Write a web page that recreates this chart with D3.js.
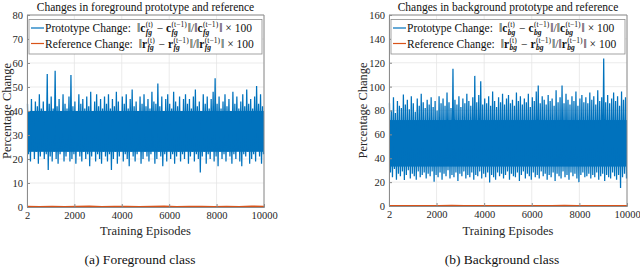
<!DOCTYPE html>
<html>
<head>
<meta charset="utf-8">
<script src="https://cdn.jsdelivr.net/npm/d3@7"></script>
<style>
  body { margin: 0; background: #fff; }
  svg text { font-family: "Liberation Serif", "DejaVu Serif", serif; }
</style>
</head>
<body>
<svg id="chart"></svg>
<script>
// ---- data ----
const xTicks = [2, 2000, 4000, 6000, 8000, 10000];
const fgYTicks = [0, 10, 20, 30, 40, 50, 60, 70, 80];
const bgYTicks = [0, 20, 40, 60, 80, 100, 120, 140, 160];

// per-bin envelope of the noisy prototype series (120 bins over episodes 2..10000)
const fgHigh = [43, 40, 45, 39, 44, 42, 47, 41, 44, 40, 55.4, 43, 46, 41, 56.8, 42, 45, 40, 47, 43,
  41, 46, 55, 42, 44, 39, 47, 43, 45, 41, 46, 42, 48, 40, 44, 47, 42, 45, 41, 46,
  43, 47, 41, 45, 42, 48, 44, 40, 46, 43, 47, 41, 45, 49, 42, 44, 40, 46, 43, 47,
  42, 45, 41, 48, 44, 43, 51.5, 42, 46, 40, 45, 47, 43, 41, 48, 44, 42, 46, 40, 45,
  47, 43, 45, 41, 46, 49, 42, 44, 40, 47, 43, 46, 41, 45, 48, 53.6, 43, 46, 41, 44,
  47, 42, 45, 40, 48, 43, 46, 41, 44, 47, 42, 49, 43, 45, 41, 46, 50.4, 43, 47, 42];
const fgLow = [22, 19, 24, 20, 23, 18, 21, 25, 20, 22, 15.4, 21, 19, 23, 20, 18, 22, 24, 19, 21,
  23, 19, 20, 22, 18, 24, 21, 19, 23, 20, 22, 17, 21, 24, 19, 22, 20, 18, 23, 21,
  19, 22, 15.4, 20, 23, 18, 21, 24, 19, 22, 20, 17, 23, 21, 19, 22, 24, 18, 20, 23,
  21, 19, 22, 24, 18, 20, 23, 21, 17, 22, 19, 24, 20, 22, 18, 21, 23, 19, 22, 20,
  24, 18, 21, 23, 19, 22, 20, 14.4, 21, 23, 18, 22, 20, 24, 19, 21, 17, 23, 20, 22,
  19, 23, 21, 18, 22, 20, 24, 19, 17, 22, 21, 23, 18, 20, 22, 19, 24, 21, 18, 22];
const fgCore = [23, 40];
const fgRef = [0.2, 0.1, 0.25, 0.1, 0.2, 0.3, 0.1, 0.2, 0.25, 0.1,
  0.2, 0.35, 0.1, 0.2, 0.25, 0.1, 0.2, 0.1, 0.3, 0.2];

const bgHigh = [86, 80, 91, 78, 88, 84, 82, 93.5, 85, 89, 81, 92, 86, 79, 90, 84, 94, 87, 82, 89,
  85, 91, 83, 88, 80, 92, 86, 90, 84, 95, 87, 82, 115, 89, 85, 92, 83, 90, 86, 94,
  88, 84, 91, 109, 87, 93, 104.6, 85, 90, 86, 92, 84, 96, 88, 83, 91, 87, 94, 85, 90,
  93, 86, 89, 84, 95, 88, 92, 85, 90, 87, 94, 83, 91, 88, 96, 101, 86, 92, 89, 85,
  93, 88, 90, 84, 97, 87, 91, 101, 86, 94, 89, 85, 92, 88, 96, 84, 90, 93, 87, 91,
  86, 95, 89, 92, 85, 97, 88, 91, 123.6, 87, 93, 86, 90, 95, 88, 92, 84, 96, 89, 91];
const bgLow = [28, 24, 31, 22, 27, 25, 29, 21.7, 26, 30, 23, 27, 25, 22, 29, 24, 26, 28, 23, 27,
  25, 29, 20.4, 26, 24, 28, 22, 27, 25, 30, 23, 26, 24, 28, 21, 27, 25, 29, 23, 26,
  24, 28, 22, 26, 25, 29, 23, 27, 24, 28, 19.7, 26, 24, 22, 28, 25, 27, 23, 26, 29,
  22, 27, 25, 24, 28, 21, 26, 29, 23, 27, 25, 22, 28, 24, 26, 23, 29, 25, 27, 22,
  26, 24, 28, 21, 27, 25, 23, 29, 24, 26, 22, 28, 25, 27, 23, 20, 26, 28, 24, 25,
  27, 23, 26, 24, 28, 22, 25, 27, 21, 26, 24, 23, 28, 25, 22, 26, 15, 24, 27, 23];
const bgCore = [33, 72];
const bgRef = [0.25, 0.15, 0.3, 0.15, 0.25, 0.35, 0.15, 0.25, 0.3, 0.15,
  0.25, 0.3, 0.15, 0.25, 0.35, 0.15, 0.25, 0.15, 0.3, 0.25];

const titles = ["Changes in foreground prototype and reference",
  "Changes in background prototype and reference"];
const captions = ["(a) Foreground class", "(b) Background class"];
const xLabel = "Training Episodes";
const yLabel = "Percentage Change";
const seriesNames = ["Prototype Change:", "Reference Change:"];
const vecNames = ["c", "r"];
const subs = ["fg", "bg"];

const blue = "#0072BD";
const red = "#D95319";

const W = 640, H = 267;
const svg = d3.select("#chart").attr("width", W).attr("height", H);

function formula(v, s) {
  return [
    { t: "\u2016" },
    { t: v, bold: true, sup: "(t)", sub: s },
    { t: " \u2212 " },
    { t: v, bold: true, sup: "(t\u22121)", sub: s },
    { t: "\u2016/\u2016" },
    { t: v, bold: true, sup: "(t\u22121)", sub: s },
    { t: "\u2016 \u00d7 100" }
  ];
}

function drawMath(g, x, y, parts, fs) {
  let cx = x;
  parts.forEach((p) => {
    const t = g.append("text").attr("x", cx).attr("y", y)
      .attr("font-size", fs).attr("fill", "#111")
      .attr("font-weight", p.bold ? "bold" : null)
      .style("white-space", "pre").text(p.t);
    let w = t.node().getComputedTextLength();
    let extra = 0;
    if (p.sup) {
      const s = g.append("text").attr("x", cx + w + 0.4).attr("y", y - 4.6)
        .attr("font-size", fs * 0.66).attr("fill", "#111").text(p.sup);
      extra = Math.max(extra, s.node().getComputedTextLength());
    }
    if (p.sub) {
      const s = g.append("text").attr("x", cx + w + 0.4).attr("y", y + 2.6)
        .attr("font-size", fs * 0.66).attr("font-style", "italic")
        .attr("font-weight", "bold").attr("fill", "#111").text(p.sub);
      extra = Math.max(extra, s.node().getComputedTextLength());
    }
    cx += w + (extra ? extra + 1.4 : 0);
  });
  return cx;
}

function panel(o) {
  const g = svg.append("g");
  const x = d3.scaleLinear().domain([2, 10000]).range([o.left, o.right]);
  const y = d3.scaleLinear().domain([0, o.ymax]).range([o.bottom, o.top]);

  // grid
  g.append("g").selectAll("line").data(xTicks).join("line")
    .attr("x1", (d) => x(d)).attr("x2", (d) => x(d))
    .attr("y1", o.top).attr("y2", o.bottom)
    .attr("stroke", "#e6e6e6").attr("stroke-width", 0.8);
  g.append("g").selectAll("line").data(o.yTicks).join("line")
    .attr("x1", o.left).attr("x2", o.right)
    .attr("y1", (d) => y(d)).attr("y2", (d) => y(d))
    .attr("stroke", "#e6e6e6").attr("stroke-width", 0.8);

  // dense core of the noisy series
  const n = o.high.length;
  const bw = 9998 / n;
  g.append("rect")
    .attr("x", x(2)).attr("width", x(10000) - x(2))
    .attr("y", y(o.core[1])).attr("height", y(o.core[0]) - y(o.core[1]))
    .attr("fill", blue);

  // zig-zag through the per-bin extremes
  const pts = [];
  o.high.forEach((h, i) => {
    pts.push([2 + bw * (i + 0.25), h]);
    pts.push([2 + bw * (i + 0.75), o.low[i]]);
  });
  const line = d3.line().x((d) => x(d[0])).y((d) => y(d[1]));
  g.append("path").datum(pts).attr("d", line)
    .attr("fill", "none").attr("stroke", blue).attr("stroke-width", 1.25);

  // reference series
  const rb = 9998 / (o.ref.length - 1);
  g.append("path").datum(o.ref.map((v, i) => [2 + rb * i, v])).attr("d", line)
    .attr("fill", "none").attr("stroke", red).attr("stroke-width", 1.5);

  // axes box
  const ax = d3.axisBottom(x).tickValues(xTicks).tickSize(-3).tickPadding(5)
    .tickFormat(d3.format("d"));
  const ay = d3.axisLeft(y).tickValues(o.yTicks).tickSize(-3).tickPadding(4);
  const gx = g.append("g").attr("transform", `translate(0,${o.bottom})`).call(ax);
  const gy = g.append("g").attr("transform", `translate(${o.left},0)`).call(ay);
  [gx, gy].forEach((a) => {
    a.select(".domain").attr("stroke", "#8c8c8c");
    a.selectAll(".tick line").attr("stroke", "#8c8c8c");
    a.selectAll("text").attr("font-size", 10.5).attr("fill", "#262626");
  });
  g.append("line").attr("x1", o.left).attr("x2", o.right)
    .attr("y1", o.top).attr("y2", o.top).attr("stroke", "#8c8c8c");
  g.append("line").attr("x1", o.right).attr("x2", o.right)
    .attr("y1", o.top).attr("y2", o.bottom).attr("stroke", "#8c8c8c");

  // titles and labels
  g.append("text").attr("x", (o.left + o.right) / 2).attr("y", 11)
    .attr("text-anchor", "middle").attr("font-size", 11.5).attr("fill", "#111")
    .text(o.title);
  g.append("text").attr("x", (o.left + o.right) / 2).attr("y", 235)
    .attr("text-anchor", "middle").attr("font-size", 12.5).attr("fill", "#262626")
    .text(xLabel);
  g.append("text")
    .attr("transform", `translate(${o.ylx},${(o.top + o.bottom) / 2}) rotate(-90)`)
    .attr("text-anchor", "middle").attr("font-size", 12.5).attr("fill", "#262626")
    .text(yLabel);
  g.append("text").attr("x", o.capx).attr("y", 264)
    .attr("text-anchor", "middle").attr("font-size", 13.5).attr("fill", "#111")
    .text(o.caption);

  // legend
  const lg = g.append("g");
  lg.append("rect").attr("x", o.left + 2).attr("y", 19.5)
    .attr("width", o.right - o.left - 4).attr("height", 34.5)
    .attr("fill", "#fff").attr("stroke", "#8c8c8c").attr("stroke-width", 0.8);
  [blue, red].forEach((c, i) => {
    const ly = 28 + i * 15.5;
    lg.append("line").attr("x1", o.left + 4).attr("x2", o.left + 17)
      .attr("y1", ly).attr("y2", ly).attr("stroke", c).attr("stroke-width", 1.2);
    const t = lg.append("text").attr("x", o.left + 18).attr("y", ly + 4)
      .attr("font-size", 11.5).attr("fill", "#111").text(seriesNames[i]);
    const w = t.node().getComputedTextLength();
    drawMath(lg, o.left + 18 + w + 6, ly + 4, formula(vecNames[i], o.sub), 11.5);
  });
}

panel({ left: 27, right: 264, top: 15, bottom: 207, ymax: 80, yTicks: fgYTicks,
  high: fgHigh, low: fgLow, core: fgCore, ref: fgRef, title: titles[0],
  caption: captions[0], capx: 140, ylx: 11, sub: subs[0] });
panel({ left: 389, right: 627, top: 15, bottom: 206, ymax: 160, yTicks: bgYTicks,
  high: bgHigh, low: bgLow, core: bgCore, ref: bgRef, title: titles[1],
  caption: captions[1], capx: 502, ylx: 367, sub: subs[1] });
</script>
</body>
</html>
